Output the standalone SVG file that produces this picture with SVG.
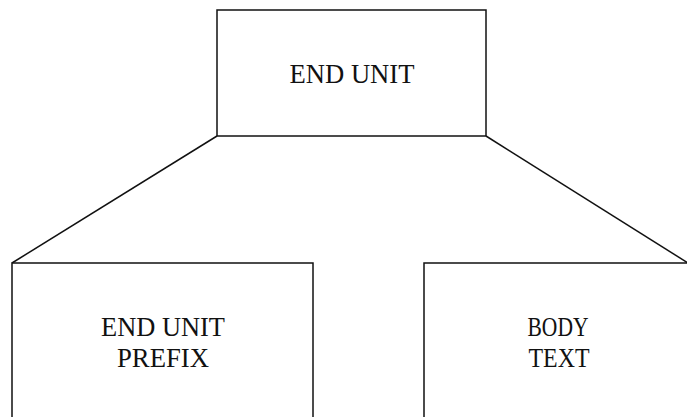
<svg xmlns="http://www.w3.org/2000/svg" width="687" height="417" viewBox="0 0 687 417">
  <style>
    .box { fill: #fff; stroke: #111; stroke-width: 1.5; }
    .link { fill: none; stroke: #111; stroke-width: 1.5; }
    .lbl { font-family: "Liberation Serif", "DejaVu Serif", serif; font-size: 27px; fill: #111; text-anchor: middle; }
  </style>
  <rect width="687" height="417" fill="#fff"/>
  <g id="connectors">
    <line class="link" x1="217" y1="136" x2="12" y2="263"/>
    <line class="link" x1="486" y1="136" x2="688" y2="263"/>
  </g>
  <g id="end-unit">
    <rect class="box" x="217" y="10" width="269" height="126"/>
    <text class="lbl" x="352" y="83" textLength="125" lengthAdjust="spacingAndGlyphs">END UNIT</text>
  </g>
  <g id="end-unit-prefix">
    <rect class="box" x="12" y="263" width="301" height="170"/>
    <text class="lbl" x="163" y="336" textLength="124" lengthAdjust="spacingAndGlyphs">END UNIT</text>
    <text class="lbl" x="163" y="367" textLength="92" lengthAdjust="spacingAndGlyphs">PREFIX</text>
  </g>
  <g id="body-text">
    <rect class="box" x="424" y="263" width="280" height="170"/>
    <text class="lbl" x="558" y="336" textLength="61" lengthAdjust="spacingAndGlyphs">BODY</text>
    <text class="lbl" x="559" y="367" textLength="61" lengthAdjust="spacingAndGlyphs">TEXT</text>
  </g>
</svg>
